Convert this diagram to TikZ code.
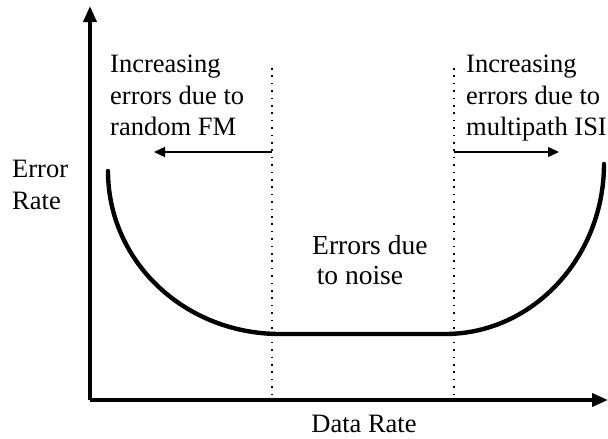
\documentclass[tikz,border=0pt]{standalone}
\usepackage{fontspec}
\setmainfont{Liberation Serif}
\usetikzlibrary{arrows.meta}

\begin{document}
\begin{tikzpicture}[x=1pt, y=-1pt,
  lbl/.style={font=\fontsize{26.5}{31.5}\selectfont, inner sep=0pt, align=left},
  axis/.style={line width=3.6pt, -{Triangle[length=16pt,width=13pt]}},
  sep/.style={line width=1.6pt, dash pattern=on 1.6pt off 5.8pt},
  push/.style={line width=1.3pt, -{Triangle[length=11pt,width=10pt]}}]
\useasboundingbox (0,0) rectangle (608,439);

% axes
\coordinate (o) at (90,400);
\coordinate (ytop) at (90,6);
\coordinate (xend) at (608,400);
\draw[axis] (o) -- (ytop);
\draw[axis] (o) -- (xend);

% region boundaries
\coordinate (la) at (272,68);
\coordinate (lb) at (272,397);
\coordinate (ra) at (454,68);
\coordinate (rb) at (454,397);
\draw[sep] (la) -- (lb);
\draw[sep] (ra) -- (rb);

% error rate curve
\draw[line width=4.4pt, line cap=round] (108,171) .. controls (108,262) and (185,334) .. (280,334)
  -- (445,334) .. controls (533,334) and (604,257) .. (604,164);

% arrows
\coordinate (lstart) at (272,152);
\coordinate (lend) at (154,152);
\coordinate (rstart) at (454,152);
\coordinate (rend) at (559,152);
\draw[push] (lstart) -- (lend);
\draw[push] (rstart) -- (rend);

% labels
\node[lbl, anchor=north west] (fm) at (110,55) {Increasing\\errors due to\\random FM};
\node[lbl, anchor=north west] (isi) at (466,55) {Increasing\\errors due to\\multipath ISI};
\node[lbl, anchor=north west] (yl) at (12,160) {Error\\Rate};
\node[lbl, anchor=north west, font=\fontsize{27.5}{30}\selectfont] (noise) at (312,235) {Errors due\\\,to noise};
\node[lbl, anchor=north] (xl) at (364,415) {Data Rate};
\end{tikzpicture}
\end{document}
